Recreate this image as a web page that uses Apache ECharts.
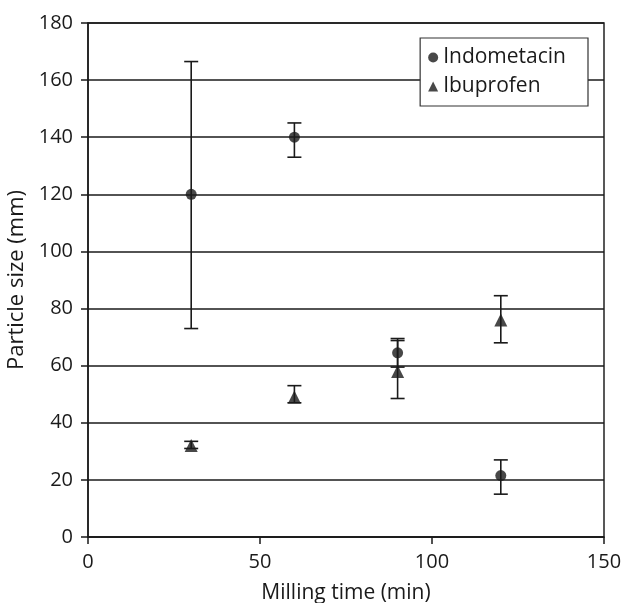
<!DOCTYPE html>
<html>
<head>
<meta charset="utf-8">
<script src="https://cdn.jsdelivr.net/npm/echarts@6/dist/echarts.min.js"></script>
<style>
  html, body { margin: 0; padding: 0; background: #fff; }
  #chart { width: 623px; height: 603px; }
</style>
</head>
<body>
<div id="chart"></div>
<script>
// milling time (min)
var times = [30, 60, 90, 120];
// Indometacin: mean, low, high
var indoMean = [120, 140, 64.5, 21.5];
var indoLow = [73, 133, 59.5, 15];
var indoHigh = [166.5, 145, 69.5, 27];
// Ibuprofen: mean, low, high
var ibuMean = [32, 49, 58, 76];
var ibuLow = [31, 47, 48.5, 68];
var ibuHigh = [33.5, 53, 68.8, 84.5];

var chart = echarts.init(document.getElementById('chart'));
var font = 'Open Sans';

function pts(means) {
    return times.map(function (t, i) { return [t, means[i]]; });
}
function bars(low, high) {
    return times.map(function (t, i) { return [t, low[i], high[i]]; });
}
function renderErr(params, api) {
    var x = api.value(0);
    var lo = api.coord([x, api.value(1)]);
    var hi = api.coord([x, api.value(2)]);
    var w = 7;
    var st = { stroke: '#1a1a1a', lineWidth: 1.6 };
    return {
        type: 'group',
        children: [
            { type: 'line', shape: { x1: lo[0], y1: lo[1], x2: hi[0], y2: hi[1] }, style: st },
            { type: 'line', shape: { x1: lo[0] - w, y1: lo[1], x2: lo[0] + w, y2: lo[1] }, style: st },
            { type: 'line', shape: { x1: hi[0] - w, y1: hi[1], x2: hi[0] + w, y2: hi[1] }, style: st }
        ]
    };
}

chart.setOption({
    animation: false,
    textStyle: { fontFamily: font },
    grid: {
        left: 88, right: 19, top: 23, bottom: 66,
        outerBoundsMode: 'none', containLabel: false,
        show: true, borderColor: '#222', borderWidth: 1.5
    },
    legend: {
        right: 35, top: 38,
        orient: 'vertical',
        data: [
            { name: 'Indometacin', icon: 'circle' },
            { name: 'Ibuprofen', icon: 'triangle' }
        ],
        itemWidth: 10, itemHeight: 10, itemGap: 8,
        padding: [9, 22, 9, 8],
        borderColor: '#333', borderWidth: 1.2, backgroundColor: '#fff',
        textStyle: { fontFamily: font, fontSize: 21, lineHeight: 20, color: '#1a1a1a' }
    },
    xAxis: {
        type: 'value', min: 0, max: 150, interval: 50,
        name: 'Milling time (min)', nameLocation: 'middle', nameGap: 46,
        nameTextStyle: { fontFamily: font, fontSize: 21, color: '#1a1a1a' },
        axisLine: { show: true, lineStyle: { color: '#1a1a1a', width: 1.5 } },
        axisTick: { show: true, length: 7, lineStyle: { color: '#1a1a1a', width: 1.5 } },
        axisLabel: { fontFamily: font, fontSize: 20, color: '#1a1a1a', margin: 15 },
        splitLine: { show: false }
    },
    yAxis: {
        type: 'value', min: 0, max: 180, interval: 20,
        name: 'Particle size (mm)', nameLocation: 'middle', nameGap: 55,
        nameTextStyle: { fontFamily: font, fontSize: 22, color: '#1a1a1a' },
        axisLine: { show: true, lineStyle: { color: '#1a1a1a', width: 1.5 } },
        axisTick: { show: true, length: 7, lineStyle: { color: '#1a1a1a', width: 1.5 } },
        axisLabel: { fontFamily: font, fontSize: 20, color: '#1a1a1a', margin: 15 },
        splitLine: { show: true, lineStyle: { color: '#1a1a1a', width: 1.5 } }
    },
    series: [
        {
            name: 'Indometacin', type: 'scatter', symbol: 'circle', symbolSize: 11,
            itemStyle: { color: '#1a1a1a' }, data: pts(indoMean), z: 5
        },
        {
            name: 'Ibuprofen', type: 'scatter', symbol: 'triangle', symbolSize: 13,
            itemStyle: { color: '#1a1a1a' }, data: pts(ibuMean), z: 5
        },
        {
            name: 'Indometacin err', type: 'custom', renderItem: renderErr,
            data: bars(indoLow, indoHigh), encode: { x: 0, y: [1, 2] }, z: 4
        },
        {
            name: 'Ibuprofen err', type: 'custom', renderItem: renderErr,
            data: bars(ibuLow, ibuHigh), encode: { x: 0, y: [1, 2] }, z: 4
        }
    ]
});
</script>
</body>
</html>
